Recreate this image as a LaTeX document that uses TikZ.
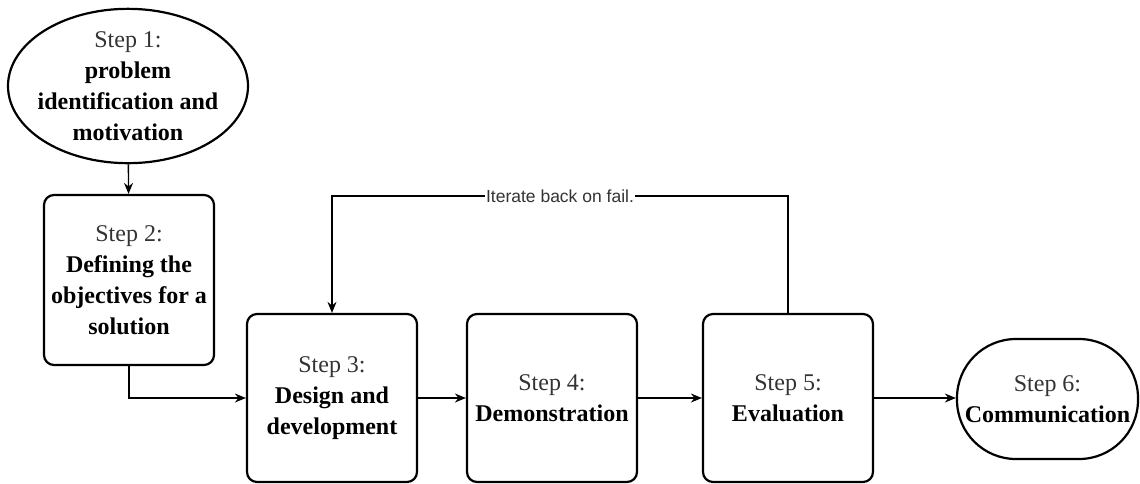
\documentclass[tikz,border=0pt]{standalone}
\usepackage{fontspec}
\setmainfont{Liberation Serif}
\newfontfamily\labelfont{Liberation Sans}
\usetikzlibrary{shapes.geometric,arrows.meta}
\definecolor{stepgray}{RGB}{51,51,51}
\tikzset{
  stepbox/.style={draw, line width=2.2pt, rounded corners=10pt, minimum width=170pt,
    minimum height=170pt, inner sep=0pt, align=center,
    font=\fontsize{24}{31}\selectfont},
  startshape/.style={draw, ellipse, line width=2.2pt, minimum width=240pt,
    minimum height=154pt, inner xsep=-8pt, inner ysep=0pt, align=center,
    font=\fontsize{24}{31}\selectfont},
  endshape/.style={draw, line width=2.2pt, rounded corners=59pt, minimum width=181pt,
    minimum height=120pt, inner sep=0pt, align=center,
    font=\fontsize{24}{31}\selectfont},
  conn/.style={draw, line width=1.4pt, -{Stealth[length=11pt,width=9pt]}},
  lbl/.style={fill=white, inner sep=1pt, font=\labelfont\fontsize{17.5}{20}\selectfont,
    text=stepgray},
}
\newcommand{\steplabel}[1]{\textcolor{stepgray}{#1}}
\begin{document}
\begin{tikzpicture}[x=1pt, y=-1pt]
  \useasboundingbox (0,0) rectangle (1140,483);

  \node[startshape] (s1) at (128,86)
    {\steplabel{Step 1:}\\ \textbf{problem}\\ \textbf{identification and}\\ \textbf{motivation}};
  \node[stepbox] (s2) at (129,280)
    {\steplabel{Step 2:}\\ \textbf{Defining the}\\ \textbf{objectives for a}\\ \textbf{solution}};
  \node[stepbox, minimum height=168pt] (s3) at (332,398)
    {\steplabel{Step 3:}\\ \textbf{Design and}\\ \textbf{development}};
  \node[stepbox, minimum height=168pt] (s4) at (552,398)
    {\steplabel{Step 4:}\\ \textbf{Demonstration}};
  \node[stepbox, minimum height=168pt] (s5) at (788,398)
    {\steplabel{Step 5:}\\ \textbf{Evaluation}};
  \node[endshape] (s6) at (1047.5,399)
    {\steplabel{Step 6:}\\ \textbf{Communication}};

  % level of the feedback loop
  \coordinate (looptop) at (0,196);

  \draw[conn] (s1) -- (s2);
  \draw[conn] (s2.south) |- (s3.west);
  \draw[conn] (s3.east) -- (s4.west |- s3.east);
  \draw[conn] (s4.east) -- (s5.west |- s4.east);
  \draw[conn] (s5.east) -- (s6.west |- s5.east);
  \draw[conn] (s5.north) -- (s5.north |- looptop)
    -- node[lbl] {Iterate back on fail.} (s3.north |- looptop) -- (s3.north);
\end{tikzpicture}
\end{document}
